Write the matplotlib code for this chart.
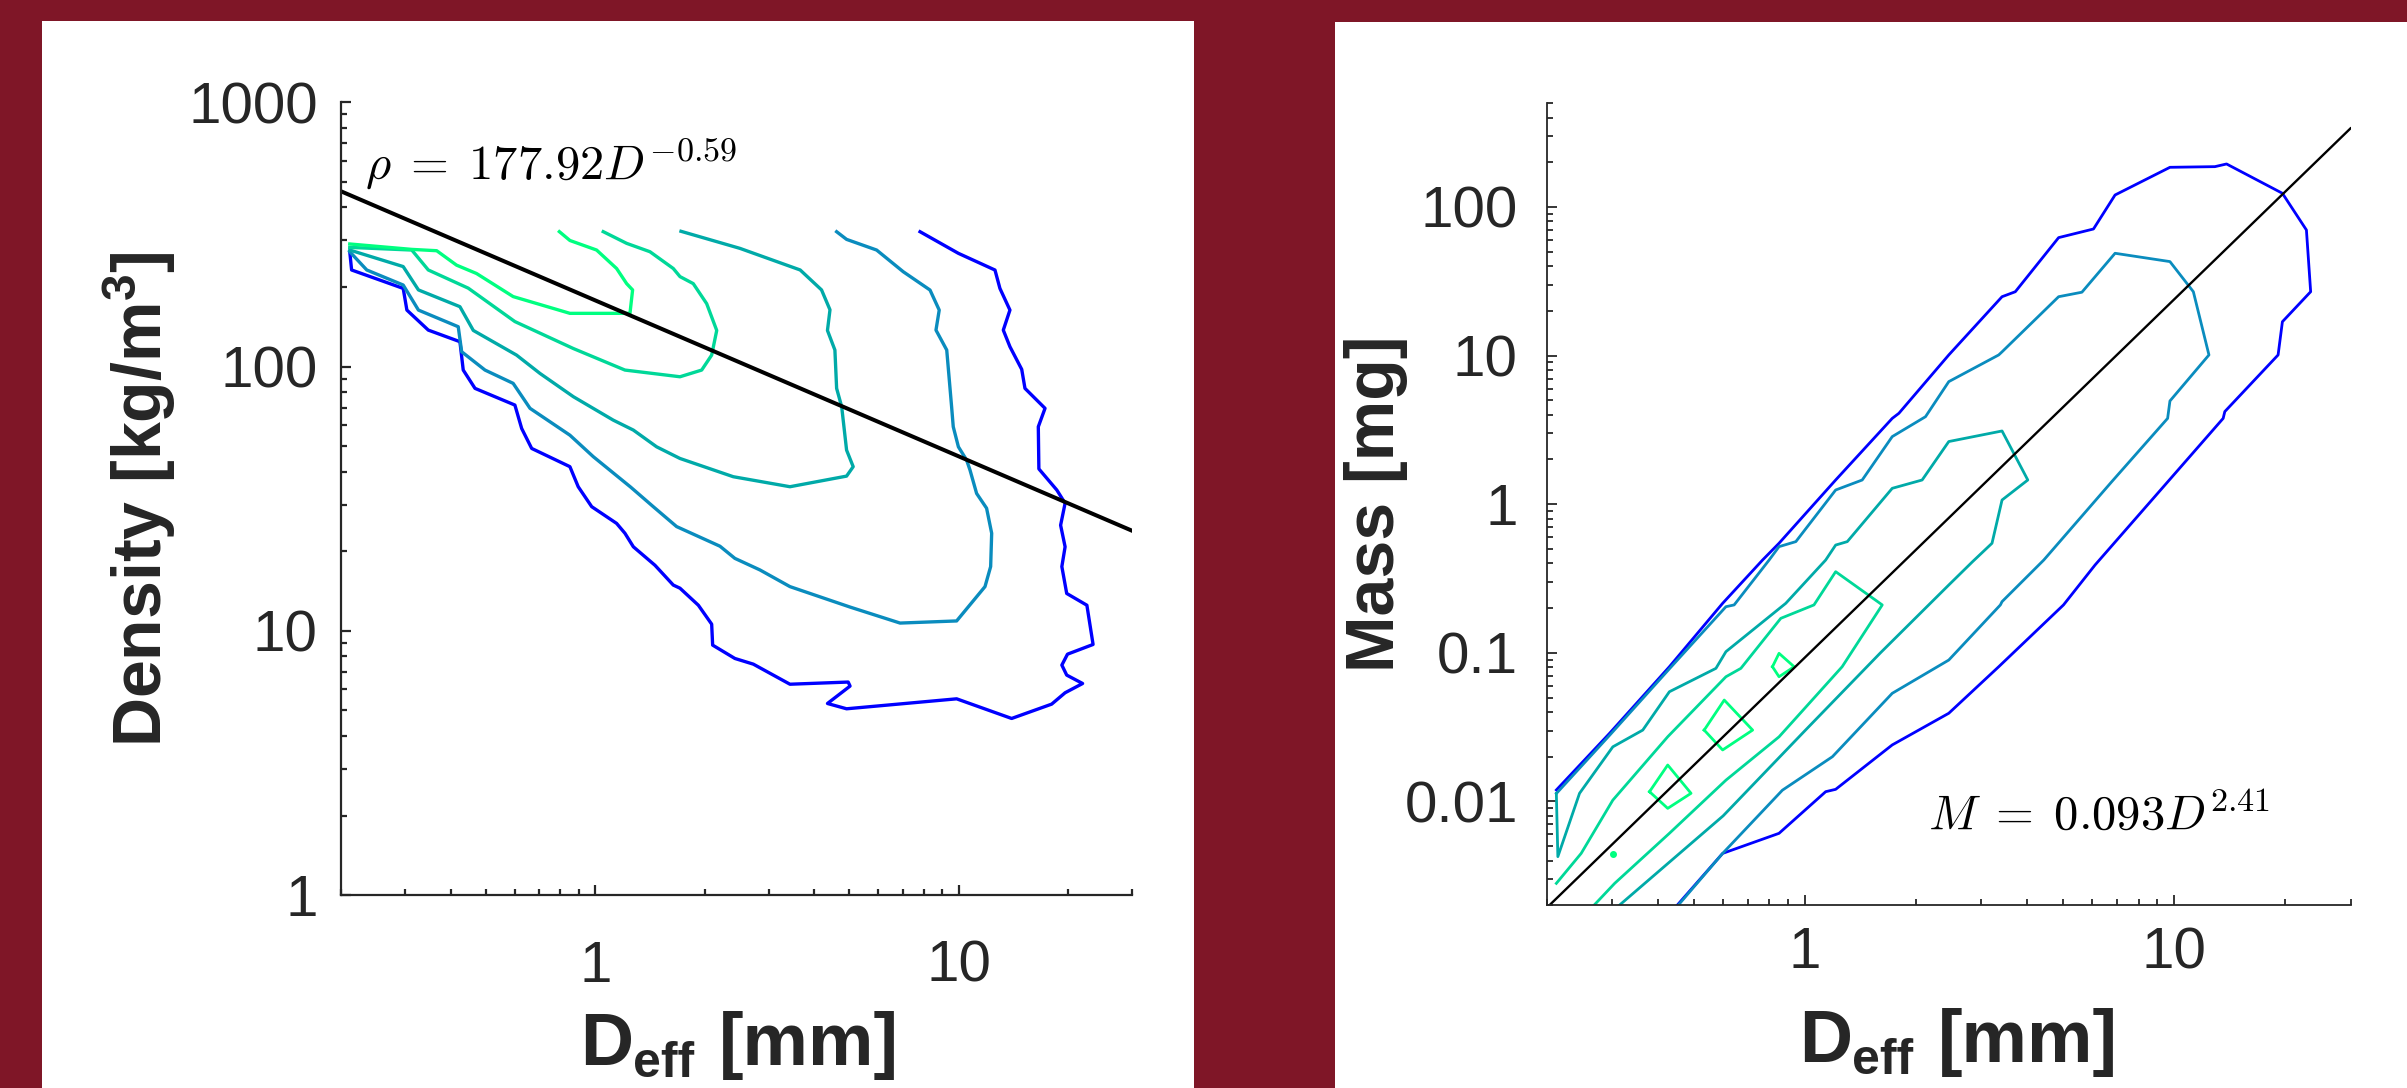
import numpy as np
import matplotlib
matplotlib.use('Agg')
import matplotlib.pyplot as plt
from matplotlib.patches import Rectangle
from matplotlib.ticker import FixedLocator, FixedFormatter, LogLocator, NullFormatter

plt.rcParams['font.family'] = ['Liberation Sans', 'DejaVu Sans']
plt.rcParams['mathtext.fontset'] = 'custom'
plt.rcParams['mathtext.rm'] = 'Liberation Sans'
plt.rcParams['mathtext.it'] = 'Liberation Sans:italic'
plt.rcParams['mathtext.bf'] = 'Liberation Sans:bold'

BG = '#7f1627'
AXC = '#262626'
LEVEL_COLORS = ['#0000ff', '#0a8cbe', '#00aaa8', '#00d898', '#00ff80']
W, H = 2407, 1088

# ---- left panel: density contours (D in mm, rho in kg/m^3) ----
rho_c1_D = [0.211, 0.2135, 0.296, 0.303, 0.347, 0.424, 0.433, 0.4665, 0.6006, 0.627, 0.668, 0.851,
            0.897, 0.977, 1.144, 1.206, 1.272, 1.459, 1.638, 1.709, 1.92, 2.089, 2.102, 2.42, 2.72,
            3.43, 4.96, 5.02, 4.35, 4.91, 9.86, 13.97, 18.0, 19.6, 21.9, 19.8, 19.2, 19.9, 23.4,
            22.5, 19.8, 19.2, 19.6, 19.05, 19.6, 18.6, 16.6, 16.54, 17.26, 15.2, 14.89, 13.82,
            13.25, 13.82, 12.97, 12.57, 9.97, 7.82]
rho_c1 = [272, 232, 197.6, 163.6, 137.4, 124.2, 97, 82.7, 71.5, 58.3, 49, 41.8, 35.1, 29.5, 25.5,
          23.4, 20.8, 17.7, 14.9, 14.5, 12.5, 10.6, 8.83, 7.86, 7.48, 6.28, 6.40, 6.18, 5.31, 5.07,
          5.53, 4.66, 5.28, 5.83, 6.32, 6.80, 7.42, 8.16, 8.88, 12.5, 13.85, 17.5, 20.8, 25.1,
          30.4, 34.1, 41, 59.2, 69.5, 82.7, 97.6, 118.9, 137.4, 163.6, 197.6, 231.9, 268.2, 323.8]

rho_c2_D = [0.211, 0.235, 0.296, 0.326, 0.4195, 0.4287, 0.497, 0.594, 0.661, 0.851, 0.987, 1.25,
            1.443, 1.673, 2.202, 2.42, 2.836, 3.43, 5.02, 6.89, 9.86, 11.8, 12.23, 12.31, 11.92,
            11.19, 10.73, 10.5, 9.97, 9.65, 9.55, 9.26, 8.65, 8.83, 8.33, 7.03, 5.94, 4.91, 4.61]
rho_c2 = [272, 232, 203.5, 163.6, 141.5, 113.8, 97, 86.4, 69.5, 55, 45.6, 35, 29.5, 24.8, 20.9,
          18.8, 17.0, 14.7, 12.3, 10.7, 10.9, 14.7, 17.5, 23.4, 29.1, 33.1, 40.6, 44.3, 49.7,
          59.2, 70.5, 115.5, 137.4, 163.6, 194.8, 228.5, 276, 302.9, 323.8]

rho_c3_D = [0.211, 0.296, 0.326, 0.424, 0.4615, 0.607, 0.704, 0.870, 1.12, 1.272, 1.474, 1.709,
            2.395, 3.43, 4.91, 5.12, 4.91, 4.76, 4.61, 4.56, 4.35, 4.42, 4.19, 3.66, 2.50, 1.72]
rho_c3 = [276, 239, 195, 168.5, 137, 110.5, 94.2, 76.9, 62.7, 57.5, 49.7, 44.9, 38.3, 35.1, 38.5,
          41.8, 48.3, 70.5, 82.7, 115.5, 137, 164, 195, 232, 280, 325]

rho_c4_D = [0.211, 0.3126, 0.347, 0.447, 0.6006, 0.870, 1.206, 1.709, 1.961, 2.089, 2.157, 2.024,
            1.859, 1.709, 1.638, 1.413, 1.219, 1.051]
rho_c4 = [282.5, 276, 232, 198, 148, 117, 97, 91.5, 97, 110.5, 137, 173, 206, 219, 235, 272,
          292.6, 324]

rho_c5_D = [0.211, 0.3126, 0.366, 0.415, 0.471, 0.594, 0.851, 1.245, 1.266, 1.219, 1.144, 1.008,
            0.851, 0.796]
rho_c5 = [291, 277.6, 274.4, 242, 225, 184, 159, 159, 195, 206, 235, 276, 300, 324]

rho_fit_D = [0.2, 30]
rho_fit = [460, 23.9]

# ---- right panel: mass contours (D in mm, M in mg) ----
m_c1_D = [0.447, 0.598, 0.85, 1.137, 1.21, 1.722, 2.45, 3.345, 5.01, 6.10, 13.56, 13.7, 19.1,
          19.62, 23.4, 22.79, 19.62, 13.85, 12.88, 9.73, 6.91, 6.04, 4.86, 3.71, 3.415, 2.45,
          1.795, 1.722, 1.21, 0.85, 0.767, 0.598, 0.429, 0.2953, 0.212]
m_c1 = [0.00196, 0.00447, 0.0061, 0.01163, 0.01206, 0.024, 0.0392, 0.0806, 0.21, 0.39, 3.78, 4.2,
        10.1, 16.9, 26.9, 70.0, 123.6, 194.7, 186.8, 184.9, 120.4, 71.1, 62.2, 26.9, 24.9, 10.1,
        4.09, 3.78, 1.455, 0.546, 0.421, 0.2153, 0.0806, 0.0287, 0.01194]

m_c2_D = [0.45, 0.598, 0.868, 1.186, 1.722, 2.45, 3.38, 3.415, 4.43, 6.77, 9.59, 9.73, 12.41,
          11.26, 9.73, 6.91, 5.62, 4.86, 3.415, 3.345, 2.45, 2.119, 1.722, 1.428, 1.21, 0.944,
          0.85, 0.799, 0.6425, 0.6104, 0.429, 0.2953, 0.212]
m_c2 = [0.00196, 0.00447, 0.0119, 0.02, 0.0534, 0.0894, 0.21, 0.221, 0.421, 1.418, 3.78, 4.95,
        10.1, 26.9, 42.9, 48.8, 26.7, 24.9, 10.6, 10.1, 6.68, 3.88, 2.85, 1.455, 1.246, 0.56,
        0.518, 0.421, 0.21, 0.2043, 0.078, 0.0278, 0.0113]

m_c3_D = [0.212, 0.214, 0.245, 0.3015, 0.3634, 0.429, 0.5735, 0.6104, 0.8865, 1.137, 1.21, 1.301,
          1.722, 2.075, 2.45, 3.415, 4.01, 3.415, 3.208, 2.84, 2.45, 1.6, 1.0, 0.6, 0.311]
m_c3 = [0.01134, 0.00425, 0.01134, 0.0233, 0.0302, 0.0547, 0.0786, 0.1018, 0.2153, 0.421, 0.531,
        0.56, 1.279, 1.455, 2.64, 3.11, 1.455, 1.067, 0.546, 0.41, 0.286, 0.1, 0.03, 0.008, 0.00196]

m_c4_D = [0.212, 0.2475, 0.3015, 0.4246, 0.6104, 0.67, 0.8594, 1.057, 1.21, 1.618, 1.26, 0.85,
          0.6104, 0.429, 0.305, 0.266]
m_c4 = [0.00281, 0.00447, 0.0102, 0.02724, 0.069, 0.0786, 0.1706, 0.21, 0.3515, 0.21, 0.0806,
        0.0272, 0.0139, 0.0061, 0.00281, 0.00196]

# small closed islands of the highest level
m_isl1_D = [0.816, 0.85, 0.934, 0.85, 0.816]
m_isl1 = [0.0806, 0.0992, 0.0806, 0.069, 0.0806]
m_isl2_D = [0.533, 0.604, 0.721, 0.598, 0.533]
m_isl2 = [0.0302, 0.0481, 0.0302, 0.0222, 0.0302]
m_isl3_D = [0.379, 0.4246, 0.491, 0.4246, 0.379]
m_isl3 = [0.01163, 0.01758, 0.01134, 0.00898, 0.01163]
m_dot_D = [0.3015]
m_dot = [0.00443]

m_fit_D = [0.2, 30]
m_fit = [0.00193, 338]


def style_axes(ax, lw):
    ax.set_xscale('log')
    ax.set_yscale('log')
    for s in ['top', 'right']:
        ax.spines[s].set_visible(False)
    for s in ['left', 'bottom']:
        ax.spines[s].set_color(AXC)
        ax.spines[s].set_linewidth(lw)
    ax.tick_params(which='both', direction='in', colors=AXC, width=lw)
    ax.tick_params(which='major', length=7, labelsize=42)
    ax.tick_params(which='minor', length=4)
    ax.set_facecolor('white')


def xlabel_pieces(x0, base, x_sub, x_rest):
    # D, lowered "eff" subscript, then [mm], placed in pixel units
    kw = dict(fontweight='bold', color=AXC, ha='left', va='baseline')
    fig.text(x0 / W, 1 - base / H, 'D', fontsize=53, **kw)
    fig.text(x_sub / W, 1 - (base + 12) / H, 'eff', fontsize=36, **kw)
    fig.text(x_rest / W, 1 - base / H, '[mm]', fontsize=53, **kw)


fig = plt.figure(figsize=(W / 100, H / 100), dpi=100)
fig.patch.set_facecolor(BG)
fig.add_artist(Rectangle((42 / W, 0), 1152 / W, 1067 / H, transform=fig.transFigure,
                         facecolor='white', edgecolor='none', zorder=0))
fig.add_artist(Rectangle((1335 / W, 0), 1072 / W, 1066 / H, transform=fig.transFigure,
                         facecolor='white', edgecolor='none', zorder=0))

# left
ax1 = fig.add_axes([341.3 / W, (H - 895.1) / H, 791 / W, 792.8 / H])
style_axes(ax1, 1.6)
lines = [(rho_c1_D, rho_c1), (rho_c2_D, rho_c2), (rho_c3_D, rho_c3), (rho_c4_D, rho_c4),
         (rho_c5_D, rho_c5)]
for (d, v), c in zip(lines, LEVEL_COLORS):
    ax1.plot(d, v, color=c, lw=2.4)
ax1.plot(rho_fit_D, rho_fit, color='black', lw=2.9)
ax1.set_xlim(0.2, 30)
ax1.set_ylim(1, 1000)
ax1.xaxis.set_major_locator(FixedLocator([1, 10]))
ax1.xaxis.set_major_formatter(FixedFormatter(['1', '10']))
ax1.yaxis.set_major_locator(FixedLocator([1, 10, 100, 1000]))
ax1.yaxis.set_major_formatter(FixedFormatter(['1', '10', '100', '1000']))
for a in [ax1.xaxis, ax1.yaxis]:
    a.set_minor_locator(LogLocator(base=10, subs=np.arange(2, 10), numticks=20))
    a.set_minor_formatter(NullFormatter())
ax1.tick_params(axis='y', pad=17)
ax1.tick_params(axis='x', pad=32)
ax1.text(0.232, 508, r'$\rho\;=\;177.92D^{-0.59}$', fontsize=35, math_fontfamily='cm',
         va='baseline', ha='left')
ax1.set_ylabel(r'Density [kg/m$^{\mathbf{3}}$]', fontsize=49, fontweight='bold', color=AXC)
ax1.yaxis.set_label_coords(-0.207, 0.5)
xlabel_pieces(580, 1065, 633, 719)

# right
ax2 = fig.add_axes([1547 / W, (H - 905.3) / H, 803.5 / W, 802.2 / H])
style_axes(ax2, 1.3)
lines = [(m_c1_D, m_c1), (m_c2_D, m_c2), (m_c3_D, m_c3), (m_c4_D, m_c4)]
for (d, v), c in zip(lines, LEVEL_COLORS):
    ax2.plot(d, v, color=c, lw=2.0)
for d, v in [(m_isl1_D, m_isl1), (m_isl2_D, m_isl2), (m_isl3_D, m_isl3)]:
    ax2.plot(d, v, color=LEVEL_COLORS[4], lw=2.0)
ax2.plot(m_dot_D, m_dot, 'o', color=LEVEL_COLORS[4], ms=4)
ax2.plot(m_fit_D, m_fit, color='black', lw=1.7)
ax2.set_xlim(0.2, 30)
ax2.set_ylim(0.002, 500)
ax2.xaxis.set_major_locator(FixedLocator([1, 10]))
ax2.xaxis.set_major_formatter(FixedFormatter(['1', '10']))
ax2.yaxis.set_major_locator(FixedLocator([0.01, 0.1, 1, 10, 100]))
ax2.yaxis.set_major_formatter(FixedFormatter(['0.01', '0.1', '1', '10', '100']))
for a in [ax2.xaxis, ax2.yaxis]:
    a.set_minor_locator(LogLocator(base=10, subs=np.arange(2, 10), numticks=20))
    a.set_minor_formatter(NullFormatter())
ax2.tick_params(axis='y', pad=21)
ax2.tick_params(axis='x', pad=15)
ax2.text(2.157, 0.00642, r'$M\;=\;0.093D^{2.41}$', fontsize=35, math_fontfamily='cm',
         va='baseline', ha='left')
ax2.set_ylabel('Mass [mg]', fontsize=49, fontweight='bold', color=AXC)
ax2.yaxis.set_label_coords(-0.173, 0.5)
xlabel_pieces(1799, 1062, 1852, 1938)

fig.savefig('out.png', dpi=100, facecolor=BG)
